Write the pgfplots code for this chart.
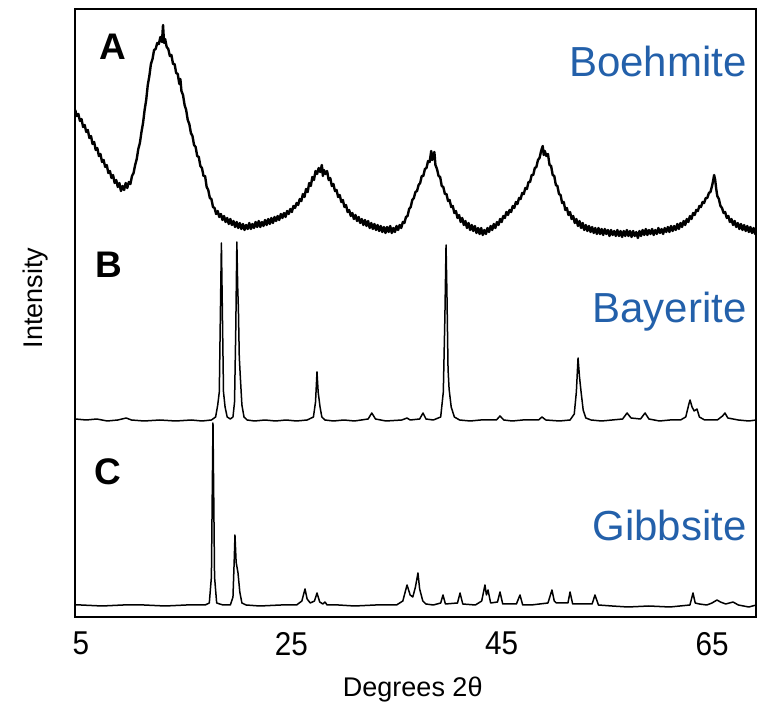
\documentclass[border=0pt]{standalone}
\usepackage{fontspec}
\setmainfont{Liberation Sans}
\usepackage{pgfplots}
\pgfplotsset{compat=1.18}
\usepackage{pgfplotstable}
\definecolor{phaseblue}{RGB}{35,96,170}

% A: boehmite (broad, noisy pattern, top panel)
\pgfplotstableread{
x y
4.45 507
4.6 501
4.75 503
4.9 496
5.05 498
5.2 490
5.35 492
5.5 485
5.65 487
5.8 479
5.95 481
6.1 473
6.25 475
6.4 467
6.55 469
6.7 461
6.85 463
7.0 455
7.15 457
7.3 450
7.45 452
7.6 444
7.75 446
7.9 439
8.05 442
8.2 434
8.35 437
8.5 430
8.65 434
8.8 426
8.95 431
9.1 427
9.25 434
9.4 429
9.55 435
9.7 433
9.85 441
10.0 444
10.15 452
10.3 458
10.45 468
10.6 474
10.75 485
10.9 494
11.05 507
11.2 517
11.35 532
11.5 541
11.65 553
11.8 558
11.95 567
12.1 568
12.25 574
12.4 573
12.55 580
12.7 575
12.8 592
12.9 574
13.0 578
13.15 570
13.3 568
13.45 561
13.6 562
13.75 553
13.9 553
14.05 544
14.2 543
14.35 533
14.45 538
14.55 526
14.7 522
14.85 512
15.0 507
15.15 497
15.3 493
15.45 484
15.6 481
15.75 472
15.9 470
16.05 461
16.2 460
16.35 451
16.5 449
16.65 441
16.8 441
16.95 430
17.1 427
17.25 419
17.4 418
17.55 410
17.7 409
17.85 403
18.0 406
18.15 400
18.3 403
18.45 397
18.6 401
18.75 395
18.9 399
19.05 393
19.2 398
19.35 392
19.5 396
19.65 390
19.8 395
19.95 389
20.1 394
20.25 388
20.4 393
20.55 387
20.7 392
20.85 388
21.0 394
21.15 388
21.3 393
21.45 389
21.6 395
21.75 390
21.9 396
22.05 390
22.2 395
22.35 391
22.5 397
22.65 392
22.8 398
22.95 393
23.1 399
23.25 394
23.4 400
23.55 396
23.7 401
23.85 397
24.0 403
24.15 399
24.3 404
24.45 400
24.6 406
24.75 403
24.9 408
25.05 405
25.2 411
25.35 409
25.5 414
25.65 412
25.8 418
25.95 416
26.1 423
26.25 420
26.4 428
26.55 425
26.7 434
26.85 431
27.0 440
27.15 437
27.3 446
27.45 443
27.6 449
27.75 445
27.9 452
28.0 441
28.1 447
28.25 443
28.4 446
28.55 437
28.7 439
28.85 431
29.0 433
29.15 426
29.3 427
29.45 420
29.6 422
29.75 415
29.9 417
30.05 410
30.2 412
30.35 405
30.5 407
30.65 401
30.8 404
30.95 398
31.1 402
31.25 396
31.4 400
31.55 394
31.7 398
31.85 392
32.0 397
32.15 391
32.3 396
32.45 389
32.6 394
32.75 388
32.9 393
33.05 387
33.2 392
33.35 386
33.5 391
33.65 385
33.8 390
33.95 384
34.1 390
34.25 385
34.4 391
34.55 384
34.7 389
34.85 385
35.0 391
35.15 387
35.3 392
35.45 389
35.6 395
35.75 394
35.9 400
36.05 401
36.2 408
36.35 410
36.5 417
36.65 419
36.8 425
36.95 426
37.1 432
37.25 434
37.4 441
37.55 441
37.7 448
37.85 449
38.0 456
38.15 455
38.3 466
38.4 457
38.5 461
38.6 465
38.7 452
38.85 448
39.0 441
39.15 440
39.3 431
39.45 430
39.6 423
39.75 423
39.9 416
40.05 417
40.2 410
40.35 411
40.5 404
40.65 406
40.8 399
40.95 402
41.1 395
41.25 399
41.4 392
41.55 396
41.7 389
41.85 394
42.0 387
42.15 392
42.3 386
42.45 391
42.6 384
42.75 389
42.9 383
43.05 389
43.2 382
43.35 387
43.5 383
43.65 389
43.8 385
43.95 391
44.1 387
44.25 393
44.4 389
44.55 395
44.7 392
44.85 398
45.0 395
45.15 401
45.3 399
45.45 405
45.6 402
45.75 407
45.9 405
46.05 411
46.2 409
46.35 415
46.5 413
46.65 419
46.8 418
46.95 424
47.1 423
47.25 429
47.4 428
47.55 435
47.7 435
47.85 442
48.0 442
48.15 449
48.3 450
48.45 457
48.6 459
48.75 466
48.9 471
49.0 462
49.1 466
49.25 461
49.4 463
49.55 452
49.7 451
49.85 442
50.0 441
50.15 432
50.3 431
50.45 423
50.6 422
50.75 414
50.9 415
51.05 407
51.2 409
51.35 402
51.5 405
51.65 398
51.8 401
51.95 394
52.1 398
52.25 391
52.4 396
52.55 389
52.7 394
52.85 387
53.0 392
53.15 386
53.3 391
53.45 385
53.6 390
53.75 384
53.9 389
54.05 383
54.2 389
54.35 383
54.5 388
54.65 382
54.8 388
54.95 383
55.1 387
55.25 381
55.4 387
55.55 382
55.7 386
55.85 381
56.0 387
56.15 381
56.3 386
56.45 380
56.6 386
56.75 381
56.9 387
57.05 381
57.2 386
57.35 380
57.5 386
57.65 381
57.8 385
57.95 379
58.1 386
58.25 381
58.4 387
58.55 382
58.7 388
58.85 382
59.0 387
59.15 383
59.3 388
59.45 382
59.6 387
59.75 383
59.9 389
60.05 384
60.2 388
60.35 383
60.5 389
60.65 385
60.8 390
60.95 385
61.1 391
61.25 386
61.4 391
61.55 387
61.7 393
61.85 388
62.0 394
62.15 390
62.3 396
62.45 392
62.6 398
62.75 395
62.9 401
63.05 398
63.2 404
63.35 402
63.5 407
63.65 406
63.8 411
63.95 410
64.1 415
64.25 414
64.4 419
64.55 419
64.7 424
64.85 425
65.0 431
65.1 436
65.2 442
65.3 437
65.4 428
65.5 421
65.65 418
65.8 411
65.95 409
66.1 404
66.25 405
66.4 399
66.55 401
66.7 395
66.85 398
67.0 392
67.15 396
67.3 390
67.45 394
67.6 388
67.75 393
67.9 387
68.05 392
68.2 386
68.35 391
68.5 385
68.65 390
68.8 384
68.95 389
69.1 383
69.2 387
}\boehmite

% B: bayerite (middle panel)
\pgfplotstableread{
x y
4.45 198
5.5 197
6.5 198
7.5 196
8.5 197
9.3 199
9.8 197
11 196
12.5 197
14 196
15.5 197
16.5 196
17.4 197
17.8 200
18.0 212
18.15 225
18.25 300
18.35 374
18.45 300
18.55 225
18.7 210
18.9 200
19.2 198
19.45 200
19.6 215
19.72 290
19.82 375
19.9 330
19.97 307
20.05 260
20.15 240
20.3 212
20.5 200
20.8 197
21.5 196
22.5 197
23.5 196
24.5 197
25.5 196
26.5 197
27.1 200
27.3 215
27.44 245
27.55 225
27.73 210
27.9 200
28.2 197
29 196
30 197
31 196
32.3 198
32.65 204
33.0 198
34 196
35.5 197
36.0 199
36.3 197
37.2 198
37.52 204
37.8 198
38.5 197
39.2 200
39.45 225
39.6 300
39.71 372
39.8 320
39.9 248
40.0 228
40.2 210
40.5 200
41 197
42 196
43 197
44.5 197
44.84 201
45.2 197
46 196
47 197
48.5 197
48.83 200
49.2 197
50.5 196
51.5 197
51.9 203
52.1 225
52.26 259
52.4 240
52.55 225
52.75 207
53.0 199
53.5 197
54.5 196
55.5 197
56.5 198
56.92 204
57.3 199
58.2 198
58.63 204
59.0 198
60 196
61 197
62.0 197
62.5 200
62.8 213
62.91 217
63.1 210
63.3 206
63.57 208
63.8 200
64.3 197
65.5 197
66.0 201
66.23 204
66.5 199
67.5 197
68.5 196
69.2 197
}\bayerite

% C: gibbsite (bottom panel)
\pgfplotstableread{
x y
4.45 12
5 12
7 11
9 12
11 12
13 11
15 12
16.8 12
17.2 14
17.4 40
17.55 194
17.7 40
17.9 14
18.5 12
19.2 12
19.45 20
19.58 60
19.64 82
19.75 55
19.93 44
20.1 25
20.3 14
20.7 12
22 11
24 12
25.5 12
26.0 16
26.3 28
26.5 18
26.8 14
27.2 16
27.44 24
27.7 15
28.0 13
28.2 15
28.4 12
29.5 12
31 11
33 12
35 12
35.6 16
36.0 32
36.3 22
36.55 20
36.8 30
37.04 44
37.2 28
37.5 16
37.8 13
38.5 12
39.2 14
39.42 22
39.65 13
40.8 14
41.04 24
41.3 13
42.5 12
43.1 16
43.41 32
43.55 22
43.7 27
43.95 14
44.6 15
44.84 25
45.1 13
46.4 13
46.74 22
47.0 12
47.8 12
49.4 14
49.78 27
50.0 16
50.2 14
51.3 14
51.5 25
51.75 13
53.6 13
53.87 22
54.2 12
55.5 11
57 10
59 11
61 10
62.9 12
63.19 24
63.4 14
63.8 13
64.5 12
65.0 14
65.47 17
65.8 15
66.3 13
67.0 15
67.5 12
68.5 10
69.2 12
}\gibbsite

\begin{document}
\begin{tikzpicture}
\useasboundingbox (-37.5pt,-50.5pt) rectangle (343.5pt,308.5pt);
\begin{axis}[
  at={(0,0)}, anchor=south west,
  scale only axis, width=340.5pt, height=304pt,
  xmin=4.43, xmax=69.18, ymin=0, ymax=608,
  axis line style={line width=1pt},
  xtick={5,25,45,65}, ytick=\empty,
  major tick length=0pt,
  /pgf/number format/assume math mode=true,
  xticklabel style={font=\fontsize{16.5}{16.5}\selectfont, xscale=0.9, yshift=-4pt},
  xlabel={Degrees 2θ},
  xlabel style={font=\fontsize{13.5}{14}\selectfont,
    at={(axis description cs:0.496,-0.12)}, anchor=center},
  ylabel={Intensity},
  ylabel style={font=\fontsize{13.5}{14}\selectfont,
    at={(axis description cs:-0.0587,0.525)}, anchor=center},
]
\addplot[black, line width=1.2pt, line join=round] table {\boehmite};
\addplot[black, line width=0.75pt, line join=round] table {\bayerite};
\addplot[black, line width=0.75pt, line join=round] table {\gibbsite};

\node[font=\fontsize{18.5}{19}\selectfont\bfseries] at (axis cs:8.04,570) {A};
\node[font=\fontsize{18.5}{19}\selectfont\bfseries] at (axis cs:7.66,352) {B};
\node[font=\fontsize{18.5}{19}\selectfont\bfseries] at (axis cs:7.57,145) {C};

\node[anchor=base east, inner sep=0pt, text=phaseblue, font=\fontsize{21}{22}\selectfont] at (axis cs:68.33,540) {Boehmite};
\node[anchor=base east, inner sep=0pt, text=phaseblue, font=\fontsize{21}{22}\selectfont] at (axis cs:68.33,294) {Bayerite};
\node[anchor=base east, inner sep=0pt, text=phaseblue, font=\fontsize{21}{22}\selectfont] at (axis cs:68.33,76) {Gibbsite};
\end{axis}
\end{tikzpicture}
\end{document}
